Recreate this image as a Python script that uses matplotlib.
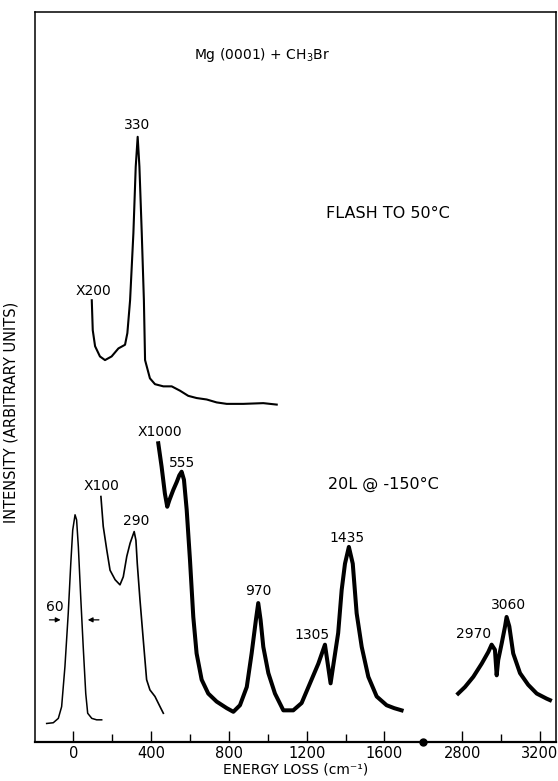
import numpy as np
import matplotlib
matplotlib.use("Agg")
import matplotlib.pyplot as plt

plt.rcParams['font.family'] = ['DejaVu Sans']

# energy loss (cm-1) and intensity (arbitrary, frame height = 100)

# top trace: flash to 50 C, x200
top_e = [95, 100, 112, 137, 163, 197, 232, 266, 278, 292, 309, 321, 331, 340, 352, 363,
         369, 394, 420, 463, 506, 549, 591, 634, 686, 737, 789, 874, 977, 1046]
top_i = [60.5, 56.4, 54.2, 52.8, 52.3, 52.8, 53.9, 54.4, 56.0, 60.5, 69.7, 78.8, 82.9, 78.8, 69.7, 60.5,
         52.3, 49.8, 49.0, 48.7, 48.7, 48.1, 47.4, 47.1, 46.9, 46.5, 46.3, 46.3, 46.4, 46.2]

# elastic peak, x1
el_e = [-137, -103, -77, -60, -43, -26, -13, -3, 9, 17, 26, 38, 51, 64, 74, 95, 120, 146]
el_i = [2.5, 2.6, 3.2, 4.8, 10.3, 17.6, 24.4, 29.0, 31.1, 30.4, 26.7, 19.9, 13.0, 6.6, 3.9, 3.2, 3.0, 3.0]

# x100 segment
x100_e = [142, 154, 172, 189, 215, 240, 257, 275, 292, 313, 322, 329, 343, 360, 377, 394, 420, 446, 463]
x100_i = [33.6, 29.5, 26.3, 23.5, 22.2, 21.5, 22.6, 25.4, 27.2, 28.8, 27.6, 24.4, 19.4, 13.9, 8.5, 7.1,
          6.2, 4.8, 3.9]

# x1000 segment
x1000_e = [437, 454, 471, 483, 494, 514, 532, 545, 557, 569, 583, 600, 617, 634, 660, 694, 737, 789,
           823, 857, 892, 917, 939, 951, 963, 977, 1003, 1037, 1080, 1131, 1174, 1217, 1260, 1294,
           1323, 1337, 1362, 1380, 1397, 1417, 1437, 1457, 1483, 1517, 1560, 1611, 1650, 1688]
x1000_i = [40.9, 37.7, 34.0, 32.2, 33.1, 34.5, 35.6, 36.5, 37.0, 35.9, 31.8, 24.9, 17.1, 12.1, 8.5, 6.6,
           5.5, 4.6, 4.1, 5.0, 7.5, 12.1, 16.7, 19.0, 16.7, 13.0, 9.4, 6.6, 4.3, 4.3, 5.3, 8.0, 10.7,
           13.3, 8.0, 10.5, 14.9, 20.8, 24.4, 26.7, 24.4, 17.6, 13.0, 8.9, 6.2, 5.0, 4.6, 4.3]

# C-H stretch region
ch_e = [2779, 2814, 2857, 2900, 2934, 2951, 2968, 2977, 2985, 3003, 3020, 3028, 3042, 3062, 3097,
        3139, 3183, 3234, 3251]
ch_i = [6.6, 7.5, 8.9, 10.7, 12.3, 13.3, 12.6, 9.1, 11.2, 13.5, 15.8, 17.1, 15.8, 12.1, 9.4, 7.8,
        6.6, 5.9, 5.7]

tick_vals = [0, 400, 800, 1200, 1600, 2800, 3200]
minor_vals = [200, 600, 1000, 1400, 3000]

peak_labels = ["330", "290", "555", "970", "1305", "1435", "2970", "3060"]
peak_e = [326, 322, 557, 951, 1226, 1406, 2857, 3037]
peak_i = [84.5, 30.3, 38.2, 20.6, 14.6, 27.9, 14.8, 18.7]

gain_labels = ["X200", "X100", "X1000"]
gain_e = [103, 146, 446]
gain_i = [61.7, 35.0, 42.4]


def brk(e):
    # axis is broken between 1800 and 2800
    e = np.asarray(e, dtype=float)
    return np.where(e > 2000, e - 800, e)


fig = plt.figure(figsize=(5.58, 7.81), dpi=100)
ax = fig.add_axes([0.0627, 0.0503, 0.9337, 0.9343])

ax.plot(brk(top_e), top_i, color='black', lw=1.5, solid_joinstyle='round')
ax.plot(brk(el_e), el_i, color='black', lw=1.1)
ax.plot(brk(x100_e), x100_i, color='black', lw=1.2)
ax.plot(brk(x1000_e), x1000_i, color='black', lw=2.9, solid_joinstyle='round')
ax.plot(brk(ch_e), ch_i, color='black', lw=2.9, solid_joinstyle='round')

for lab, e, i in zip(peak_labels, peak_e, peak_i):
    ax.text(brk(e), i, lab, ha='center', va='center', fontsize=10)
for lab, e, i in zip(gain_labels, gain_e, gain_i):
    ax.text(brk(e), i, lab, ha='center', va='center', fontsize=10)

# resolution arrows on the elastic peak
ax.text(-94, 18.5, "60", ha='center', va='center', fontsize=10)
ax.annotate('', xy=(-51, 16.7), xytext=(-137, 16.7),
            arrowprops=dict(arrowstyle='-|>', lw=0.9, color='black', mutation_scale=7))
ax.annotate('', xy=(60, 16.7), xytext=(146, 16.7),
            arrowprops=dict(arrowstyle='-|>', lw=0.9, color='black', mutation_scale=7))

ax.text(970, 94.1, "Mg (0001) + CH$_3$Br", ha='center', va='center', fontsize=10)
ax.text(1299, 72.4, "FLASH TO 50°C", ha='left', va='center', fontsize=11.5)
ax.text(1311, 35.2, "20L @ -150°C", ha='left', va='center', fontsize=11.5)

ax.set_xlim(-197, 2482)
ax.set_ylim(0, 100)
ax.set_xticks(brk(tick_vals))
ax.set_xticklabels([str(v) for v in tick_vals])
ax.set_xticks(brk(minor_vals), minor=True)
ax.tick_params(axis='x', which='major', direction='in', length=8, width=1, labelsize=10.5, pad=3)
ax.tick_params(axis='x', which='minor', direction='in', length=6, width=1)
ax.set_yticks([])

for s in ax.spines.values():
    s.set_linewidth(1.1)
ax.spines['bottom'].set_linewidth(1.6)

# break marker on the energy axis
ax.plot([1797], [0], 'o', color='black', ms=5, clip_on=False)

ax.set_xlabel("ENERGY LOSS (cm⁻¹)", fontsize=10, labelpad=1)
ax.set_ylabel("INTENSITY (ARBITRARY UNITS)", fontsize=10.5)
ax.yaxis.set_label_coords(-0.032, 0.452)

fig.savefig("out.png", dpi=100)
